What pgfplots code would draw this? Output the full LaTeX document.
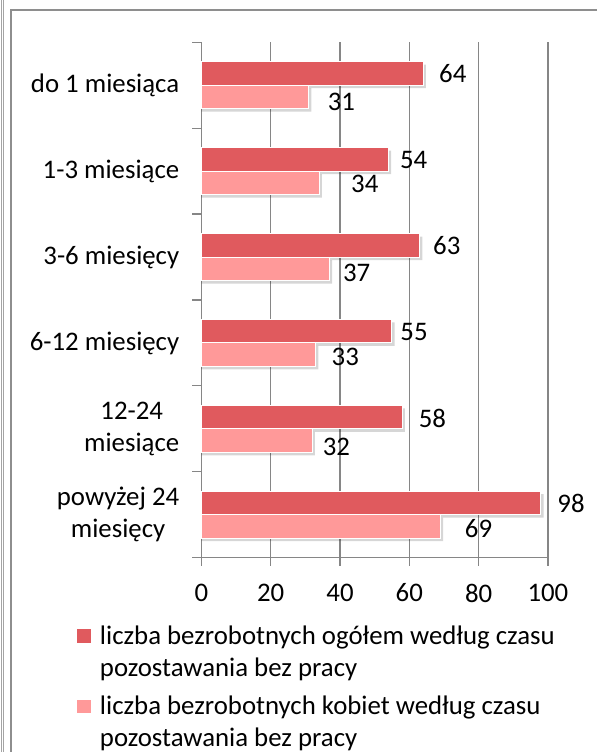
\documentclass[border=0pt]{standalone}
\usepackage{fontspec}
\setmainfont{Carlito}
\usepackage{pgfplots}
\pgfplotsset{compat=1.18}
\usepackage{pgfplotstable}
\definecolor{barA}{HTML}{E05A5E}
\definecolor{barB}{HTML}{FF9999}
\definecolor{gridc}{HTML}{868686}
\definecolor{framec}{HTML}{8E8E8E}

\pgfplotstableread{
y total women dxA dyA dxB dyB
5 64 31 15.5 0 18.5 -5
4 54 34 11 -1 31.5 -1.3
3 63 37 13 0 13 -3.7
2 55 33 8 -1 15.5 -2
1 58 32 16 -1 10 -6
0 98 69 16 -0.5 24 -2
}\datatable

\begin{document}
\begin{tikzpicture}[x=1pt,y=1pt]
\draw[framec!80, line width=0.8pt] (1.2,0) -- (1.2,752);
\draw[framec!80, line width=0.8pt] (3.6,0) -- (3.6,752);
\draw[framec, line width=1.5pt] (11,0) -- (11,742) -- (597,742);
\begin{axis}[
  at={(201.4pt,194.3pt)}, anchor=south west,
  scale only axis, width=346.5pt, height=515.4pt,
  xmin=0, xmax=100, ymin=-0.5, ymax=5.5,
  xbar, bar width=23.5pt,
  axis lines*=left,
  axis line style={draw=gridc, line width=1.2pt},
  xtick={0,20,...,100},
  xmajorgrids, grid style={draw=gridc, line width=1.2pt},
  ytick={0,...,5},
  yticklabels={{powyżej 24\\miesięcy},{12-24\\miesiące},{6-12 miesięcy},{3-6 miesięcy},{1-3 miesiące},{do 1 miesiąca}},
  minor ytick={-0.5,0.5,...,5.5},
  tick align=outside,
  major tick length=8pt, minor tick length=9pt,
  major y tick style={draw=none},
  minor y tick style={draw=gridc, line width=1.2pt},
  major x tick style={draw=gridc, line width=1.2pt},
  tick label style={font=\fontsize{26.8}{32}\selectfont},
  /pgf/number format/assume math mode=true,
  yticklabel style={align=center, inner sep=0pt, anchor=east, xshift=-14pt},
  xticklabel style={inner sep=0pt, anchor=north, yshift=-18pt},
  clip=false,
  legend style={at={(axis description cs:0,0)}, anchor=north west,
    xshift=-124.1pt, yshift=-67.8pt, draw=none, fill=none,
    inner sep=0pt, outer sep=0pt, column sep=0pt, row sep=50pt,
    font=\fontsize{26.8}{32}\selectfont,
    cells={anchor=base west}, nodes={inner sep=0pt}},
]
\addplot[fill=black, draw=none, opacity=0.16, bar shift=8.75pt, forget plot]
  table[x expr=\thisrow{total}+0.75, y=y]{\datatable};
\addplot[fill=black, draw=none, opacity=0.16, bar shift=-14.75pt, forget plot]
  table[x expr=\thisrow{women}+0.75, y=y]{\datatable};
\addplot[fill=barA, draw=white, line width=1pt, bar shift=11.75pt,
  point meta=x, nodes near coords,
  visualization depends on={\thisrow{dxA} \as \dxA},
  visualization depends on={\thisrow{dyA} \as \dyA},
  every node near coord/.append style={anchor=west, inner sep=0pt, text=black,
    font=\fontsize{26.8}{32}\selectfont, xshift=\dxA pt, yshift=\dyA pt},
  legend image code/.code={\fill[barA] (0pt,1.5pt) rectangle (12.7pt,14.2pt); \path (21.7pt,0pt);}]
  table[x=total, y=y]{\datatable};
\addlegendentry{\parbox[t]{480pt}{liczba bezrobotnych ogółem według czasu\\pozostawania bez pracy}}
\addplot[fill=barB, draw=white, line width=1pt, bar shift=-11.75pt,
  point meta=x, nodes near coords,
  visualization depends on={\thisrow{dxB} \as \dxB},
  visualization depends on={\thisrow{dyB} \as \dyB},
  every node near coord/.append style={anchor=west, inner sep=0pt, text=black,
    font=\fontsize{26.8}{32}\selectfont, xshift=\dxB pt, yshift=\dyB pt},
  legend image code/.code={\fill[barB] (0pt,1.5pt) rectangle (12.7pt,14.2pt); \path (21.7pt,0pt);}]
  table[x=women, y=y]{\datatable};
\addlegendentry{\parbox[t]{480pt}{liczba bezrobotnych kobiet według czasu\\pozostawania bez pracy}}
\end{axis}
\pgfresetboundingbox
\useasboundingbox (0,0) rectangle (597,752);
\end{tikzpicture}
\end{document}
